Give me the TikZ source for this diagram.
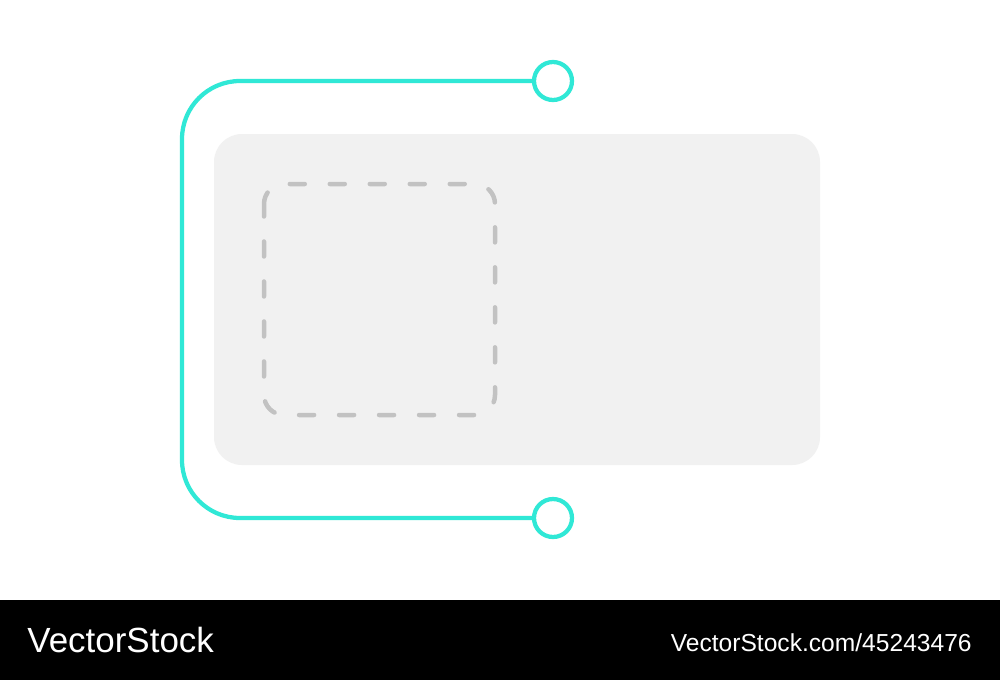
\documentclass[tikz,border=0pt]{standalone}
\usepackage{fontspec}
\setmainfont{Liberation Sans}
\definecolor{lineteal}{HTML}{30E8D6}
\definecolor{panelgray}{HTML}{F1F1F1}
\definecolor{dashgray}{HTML}{C2C2C2}
\begin{document}
\begin{tikzpicture}[x=0.02cm,y=-0.02cm,
	tealline/.style={lineteal, line width=0.085cm},
	endring/.style={circle, draw=lineteal, line width=0.085cm, fill=white, minimum size=0.76cm, inner sep=0pt},
	logotext/.style={white, inner sep=0pt}]
	\useasboundingbox (0,0) rectangle (1000,680);
	\fill[white] (0,0) rectangle (1000,600);
	\fill[black] (0,600) rectangle (1000,680);
	
	\fill[panelgray, rounded corners=0.56cm] (214,134) rectangle (820,465);
	\draw[dashgray, line width=0.09cm, line cap=round, dash pattern=on 0.3cm off 0.5cm, dash phase=0.05cm, rounded corners=0.4cm] (264,184) rectangle (495,415);
	
	\node[endring] (top) at (553,81) {};
	\node[endring] (bottom) at (553,518) {};
	\coordinate (topbend) at (182,81);
	\coordinate (bottombend) at (182,518);
	\draw[tealline, rounded corners=1.16cm] (top.west)--(topbend)--(bottombend)--(bottom.west);
	
	\node[logotext, anchor=base west, font=\fontsize{19.9}{24}\selectfont] (brand) at (27,652) {VectorStock};
	\node[logotext, anchor=base east, font=\fontsize{14}{17}\selectfont] (link) at (972,651) {VectorStock.com/45243476};
\end{tikzpicture}
\end{document}
